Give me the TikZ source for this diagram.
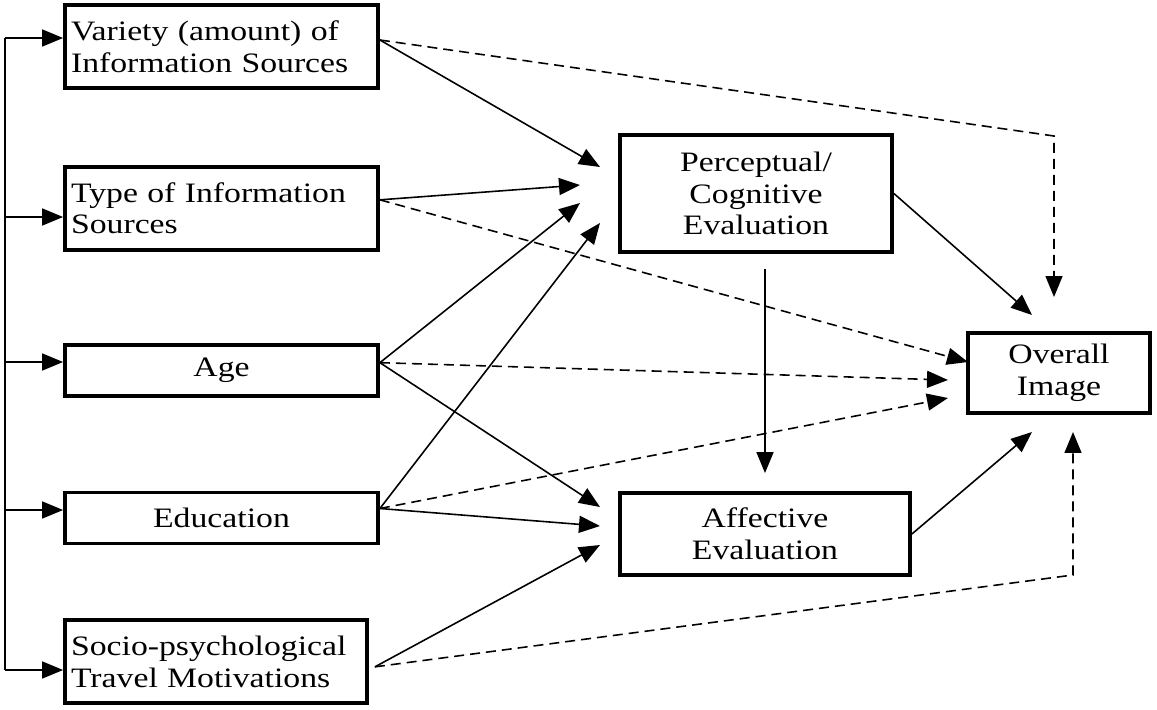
\documentclass[tikz,border=0pt]{standalone}
\usepackage{fontspec}
\setmainfont{Liberation Serif}[FakeStretch=1.2]
\usepackage{tikz}
\usetikzlibrary{arrows.meta, positioning}

\begin{document}
\begin{tikzpicture}[
			x=0.02cm, y=-0.02cm,
			font=\fontsize{16}{18}\selectfont,
			block/.style={
				rectangle,
				draw,
				line width=2.2pt,
				inner xsep=0.12cm,
				inner ysep=0pt
			},
			leftblock/.style={
				block,
				text width=6.02cm,
				align=left,
				minimum height=1.66cm
			},
			midblock/.style={
				block,
				minimum width=6.26cm,
				minimum height=1.02cm,
				align=center
			},
			arrow/.style={
				-{Triangle[length=0.42cm, width=0.34cm]},
				line width=0.9pt
			},
			darrow/.style={
				arrow,
				dash pattern=on 0.2cm off 0.12cm
			}
			]
			
			\useasboundingbox (0,0) rectangle (1157,710);
			
			% Left column: predictors
			\node[leftblock] (var) at (221.5,46.5) {Variety (amount) of\\Information Sources};
			\node[leftblock, below=1.5cm of var] (type) {Type of Information\\Sources};
			\node[midblock, below=1.82cm of type] (age) {Age};
			\node[midblock, below=1.86cm of age] (edu) {Education};
			\node[leftblock, text width=5.8cm, minimum height=1.66cm, below=1.46cm of edu, xshift=-0.11cm] (socio) {Socio-psychological\\Travel Motivations};
			
			% Middle column: evaluations
			\node[block, align=center, minimum width=5.44cm, minimum height=2.34cm] (perc) at (756,193.5) {Perceptual/\\Cognitive\\Evaluation};
			\node[block, align=center, minimum width=5.8cm, minimum height=1.64cm] (aff) at (765,534) {Affective\\Evaluation};
			
			% Right: outcome
			\node[block, align=center, minimum width=3.64cm, minimum height=1.6cm] (over) at (1059,373) {Overall\\Image};
			
			% Spine on the left
			\coordinate (s1) at (5,38);
			\coordinate (s2) at (5,217);
			\coordinate (s3) at (5,362);
			\coordinate (s4) at (5,510);
			\coordinate (s5) at (5,670);
			\draw[line width=0.9pt] (s1) -- (s5);
			\foreach \s/\b in {s1/var, s2/type, s3/age, s4/edu, s5/socio}
				\draw[arrow] (\s) -- (\s -| \b.west);
			
			% Arrow ends
			\coordinate (pv) at (600,167);
			\coordinate (pt) at (580,185);
			\coordinate (pa) at (580,203);
			\coordinate (pe) at (600,223);
			\coordinate (aa) at (600,507);
			\coordinate (ae) at (600,526);
			\coordinate (as) at (600,545);
			\coordinate (otop) at (1054,136);
			\coordinate (ov) at (1054,297);
			\coordinate (ot) at (968,362);
			\coordinate (oa) at (948,380);
			\coordinate (oe) at (948,398);
			\coordinate (obot) at (1073,575);
			\coordinate (os) at (1073,432);
			\coordinate (op) at (1032,315);
			\coordinate (of) at (1032,432);
			
			% Solid paths
			\draw[arrow] ([yshift=0.13cm]var.east) -- (pv);
			\draw[arrow] ([yshift=0.17cm]type.east) -- (pt);
			\draw[arrow] ([yshift=0.15cm]age.east) -- (pa);
			\draw[arrow] ([yshift=0.19cm]edu.east) -- (pe);
			\draw[arrow] ([yshift=0.15cm]age.east) -- (aa);
			\draw[arrow] ([yshift=0.19cm]edu.east) -- (ae);
			\draw[arrow] ([shift={(0.12cm,-0.1cm)}]socio.east) -- (as);
			\draw[arrow, shorten <=0.3cm, shorten >=0.36cm] (perc.south -| aff.north) -- (aff.north);
			\draw[arrow] (perc.east) -- (op);
			\draw[arrow] (aff.east) -- (of);
			
			% Dashed paths
			\draw[darrow] ([yshift=0.13cm]var.east) -- (otop) -- (ov);
			\draw[darrow] ([yshift=0.17cm]type.east) -- (ot);
			\draw[darrow] ([yshift=0.15cm]age.east) -- (oa);
			\draw[darrow] ([yshift=0.19cm]edu.east) -- (oe);
			\draw[darrow] ([shift={(0.12cm,-0.1cm)}]socio.east) -- (obot) -- (os);
			
		\end{tikzpicture}
\end{document}
